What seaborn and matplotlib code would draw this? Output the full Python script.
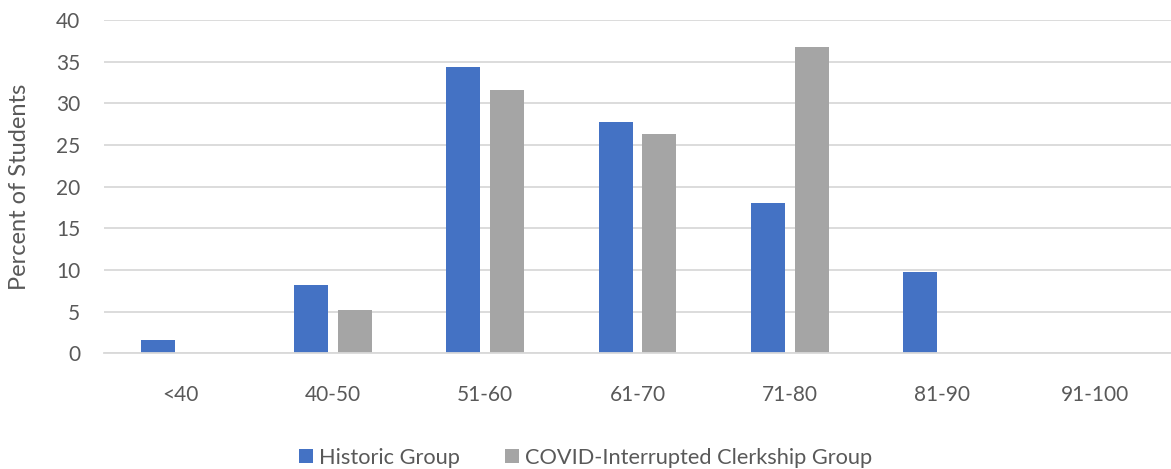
import matplotlib
matplotlib.use("Agg")

import matplotlib.pyplot as plt
import pandas as pd
import seaborn as sns

# Score bands and percent of students per group
bands = ["<40", "40-50", "51-60", "61-70", "71-80", "81-90", "91-100"]
historic = [1.6, 8.2, 34.4, 27.8, 18.0, 9.8, 0.0]
covid = [0.0, 5.2, 31.6, 26.3, 36.8, 0.0, 0.0]
groups = ["Historic Group", "COVID-Interrupted Clerkship Group"]
y_ticks = [0, 5, 10, 15, 20, 25, 30, 35, 40]

_COLORS = {"Historic Group": "#4472C4", "COVID-Interrupted Clerkship Group": "#A5A5A5"}
_TEXT = "#595959"
_GRID = "#D9D9D9"

df = pd.DataFrame({
    "band": bands * 2,
    "pct": historic + covid,
    "group": [groups[0]] * len(bands) + [groups[1]] * len(bands),
})

sns.set_theme(style="white")
plt.rcParams["font.family"] = ["Lato", "DejaVu Sans"]

fig = plt.figure(figsize=(11.71, 4.69), dpi=100)
ax = fig.add_axes([0.0888, 0.2467, 0.9112, 0.7107])

sns.barplot(
    data=df, x="band", y="pct", hue="group", order=bands, hue_order=groups,
    palette=_COLORS, width=0.577, gap=0.227, saturation=1, ax=ax,
    edgecolor="none", legend=True,
)

ax.set_ylim(0, 40)
ax.set_yticks(y_ticks)
ax.set_xlim(-0.5, len(bands) - 0.5)
ax.grid(True, axis="y", color=_GRID, linewidth=1.3)
ax.set_axisbelow(True)
for side in ["top", "right", "left"]:
    ax.spines[side].set_visible(False)
ax.spines["bottom"].set_color(_GRID)
ax.spines["bottom"].set_linewidth(1.3)

ax.tick_params(axis="y", length=0, pad=17, labelsize=15, labelcolor=_TEXT)
ax.tick_params(axis="x", length=0, pad=23, labelsize=15, labelcolor=_TEXT)
ax.set_xlabel("")
ax.set_ylabel("Percent of Students", fontsize=17, color=_TEXT)
ax.yaxis.set_label_coords(-0.069, 0.5)

handles, labels = ax.get_legend_handles_labels()
ax.legend_.remove()
fig.legend(
    handles, labels, loc="center", bbox_to_anchor=(0.5, 0.024), ncol=2,
    frameon=False, fontsize=15.7, labelcolor=_TEXT, handlelength=0.64,
    handleheight=0.64, handletextpad=0.28, columnspacing=2.05,
)

fig.savefig("out.png", dpi=100, facecolor="white")
plt.close(fig)
